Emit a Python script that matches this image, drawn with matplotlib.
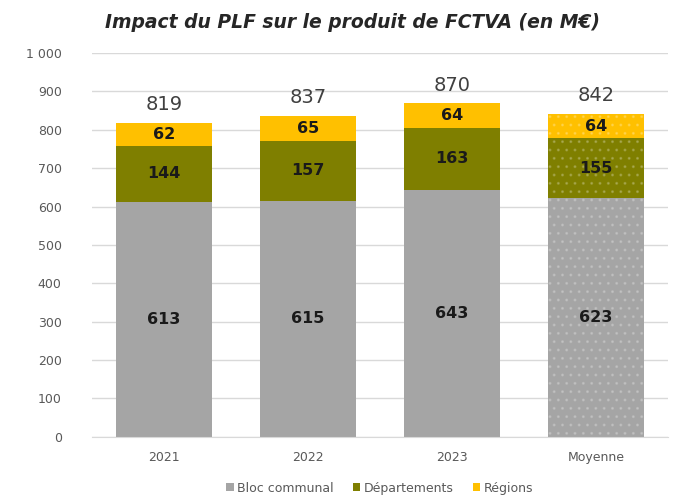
import matplotlib.pyplot as plt
import numpy as np

# data (M€)
categories = ['2021', '2022', '2023', 'Moyenne']
bloc_communal = [613, 615, 643, 623]
departements = [144, 157, 163, 155]
regions = [62, 65, 64, 64]
totals = [819, 837, 870, 842]
series_names = ['Bloc communal', 'Départements', 'Régions']

colors = ['#A5A5A5', '#7F7F00', '#FFC000']

fig = plt.figure(figsize=(6.78, 5.01), dpi=100)
ax = fig.add_axes([0.136, 0.128, 0.849, 0.766])

x = np.arange(len(categories))
width = 0.67
bottoms = np.zeros(len(categories))
handles = []
for name, vals, col in zip(series_names, [bloc_communal, departements, regions], colors):
    bars = ax.bar(x, vals, width, bottom=bottoms, color=col, label=name, zorder=2)
    handles.append(bars)
    # faint dotted pattern on the average bar
    bars[-1].set_hatch('..')
    bars[-1].set_edgecolor((1, 1, 1, 0.18))
    bars[-1].set_linewidth(0)
    for xi, v, b in zip(x, vals, bottoms):
        ax.text(xi, b + v / 2, f'{v}', ha='center', va='center',
                fontsize=11.5, fontweight='bold', color='#1a1a1a', zorder=3)
    bottoms += np.array(vals)

for xi, t in zip(x, totals):
    ax.text(xi, t + 22, f'{t}', ha='center', va='bottom', fontsize=14, color='#404040')

ax.set_xlim(-0.5, 3.5)
ax.set_ylim(0, 1000)
ax.set_yticks(range(0, 1001, 100))
ax.set_yticklabels([f'{v:,}'.replace(',', ' ') for v in range(0, 1001, 100)])
ax.set_xticks(x)
ax.set_xticklabels(categories)
ax.tick_params(axis='both', length=0, colors='#595959', labelsize=9)
ax.tick_params(axis='x', pad=10)
ax.tick_params(axis='y', pad=22)
ax.grid(axis='y', color='#D9D9D9', linewidth=1, zorder=0)
for s in ['top', 'right', 'left']:
    ax.spines[s].set_visible(False)
ax.spines['bottom'].set_color('#D9D9D9')

fig.suptitle('Impact du PLF sur le produit de FCTVA (en M€)', x=0.52, y=0.975,
             fontsize=13.5, fontweight='bold', fontstyle='italic', color='#262626')

leg = fig.legend(handles=handles, labels=series_names, loc='lower center',
                 bbox_to_anchor=(0.56, -0.01), ncol=3, frameon=False, fontsize=9,
                 handlelength=0.6, handleheight=0.6, handletextpad=0.3, columnspacing=1.5)
for t in leg.get_texts():
    t.set_color('#595959')

fig.savefig('out.png', dpi=100)
